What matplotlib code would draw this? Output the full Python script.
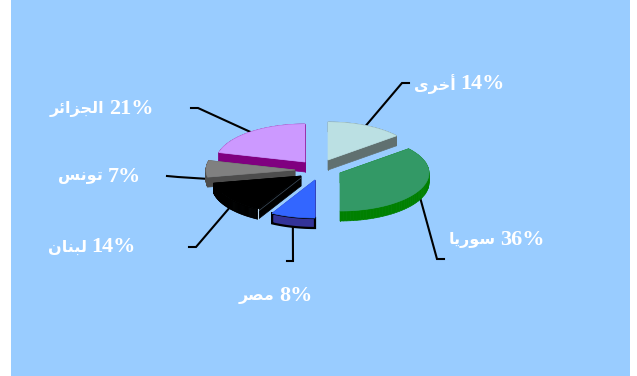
import numpy as np
import matplotlib
matplotlib.use('Agg')
import matplotlib.pyplot as plt
from matplotlib.patches import Polygon, Rectangle

# matplotlib does not shape Arabic: presentation forms, left to right
names = ['\uFEEF\uFEAE\uFEA7\uFE83',                      # other
         '\uFE8E\uFEF3\uFEAD\uFEEE\uFEB3',                # Syria
         '\uFEAE\uFEBC\uFEE3',                            # Egypt
         '\uFEE5\uFE8E\uFEE8\uFE92\uFEDF',                # Lebanon
         '\uFEB2\uFEE7\uFEEE\uFE97',                      # Tunisia
         '\uFEAE\uFE8B\uFE8D\uFEB0\uFEA0\uFEDF\uFE8D']    # Algeria
values = [14, 36, 8, 14, 7, 21]

top_colors = ['#BBE0E3', '#339966', '#3366FF', '#000000', '#808080', '#CC99FF']
wall_colors = ['#607070', '#008000', '#333399', '#000000', '#4D4D4D', '#800080']

# layout, in pixels
W, H = 637, 376
BG = '#99CCFF'
RX, RY, DEPTH = 89, 38, 10
apex = [(328, 160), (340, 173), (315, 180), (301, 176), (295, 170), (305, 162)]
elbow = [(402, 83), (437, 259), (293, 261), (196, 247), (178, 177), (198, 108)]
line_end = [(409, 83), (444, 259), (287, 261), (189, 247), (167, 176), (191, 108)]
label_xy = [(505, 84), (545, 240), (313, 296), (136, 247), (141, 177), (154, 109)]
draw_order = [5, 0, 4, 3, 2, 1]


def rim(cx, cy, theta):
    # theta in degrees, clockwise from the top of the ellipse
    t = np.radians(theta)
    return cx + RX * np.sin(t), cy - RY * np.cos(t)


def draw_slice(ax, i, start, end):
    cx, cy = apex[i]
    theta = np.linspace(start, end, 60)
    xs, ys = rim(cx, cy, theta)
    pts = np.column_stack([np.r_[cx, xs], np.r_[cy, ys]])
    low = pts + [0, DEPTH]
    # side walls: one quad for each edge of the outline
    for a in range(len(pts)):
        b = (a + 1) % len(pts)
        ax.add_patch(Polygon([pts[a], pts[b], low[b], low[a]], fc=wall_colors[i],
                             ec=wall_colors[i], lw=0.5, zorder=2))
    if i == 2:
        # the small slice has a black edge round its wall
        front = np.vstack([pts[1:], low[1:][::-1]])
        ax.add_patch(Polygon(front, fc='none', ec='black', lw=1.6, zorder=2))
    ax.add_patch(Polygon(pts, fc=top_colors[i], ec=top_colors[i], lw=0.5, zorder=2))
    if i == 3:
        # thin highlight on the cut face of the black slice
        ax.plot([pts[0][0], pts[1][0]], [pts[0][1] + 2, pts[1][1] + 2],
                color='#3F4F5F', lw=0.5, zorder=2)
        ax.plot([pts[1][0], low[1][0]], [pts[1][1], low[1][1]],
                color='#BBD8F0', lw=0.8, zorder=2)


fig = plt.figure(figsize=(W / 100, H / 100), dpi=100, facecolor='white')
ax = fig.add_axes([0, 0, 1, 1])
ax.set_xlim(0, W)
ax.set_ylim(H, 0)
ax.axis('off')
ax.add_patch(Rectangle((11, 0), 619, H, fc=BG, ec='none', zorder=0))

edges = np.r_[0, np.cumsum(values)] * 360.0 / sum(values)
for i in draw_order:
    draw_slice(ax, i, edges[i], edges[i + 1])

renderer = fig.canvas.get_renderer()
for i, v in enumerate(values):
    mid = (edges[i] + edges[i + 1]) / 2
    x0, y0 = rim(apex[i][0], apex[i][1], mid)
    if np.cos(np.radians(mid)) < 0.1:
        y0 += DEPTH
    ax.plot([x0, elbow[i][0], line_end[i][0]], [y0, elbow[i][1], line_end[i][1]],
            color='black', lw=1.5, zorder=1.5, solid_joinstyle='miter')
    # percent first, the name sits just to its left
    pct = ax.text(label_xy[i][0], label_xy[i][1], str(v) + '%', color='white',
                  fontsize=16, fontweight='bold', ha='right', va='center',
                  family='Liberation Serif', zorder=3)
    w = pct.get_window_extent(renderer).width
    ax.text(label_xy[i][0] - w - 5, label_xy[i][1], names[i], color='white',
            fontsize=11.5, fontweight='bold', ha='right', va='center',
            family='DejaVu Sans', zorder=3)

plt.savefig('out.png', dpi=100, facecolor='white')
